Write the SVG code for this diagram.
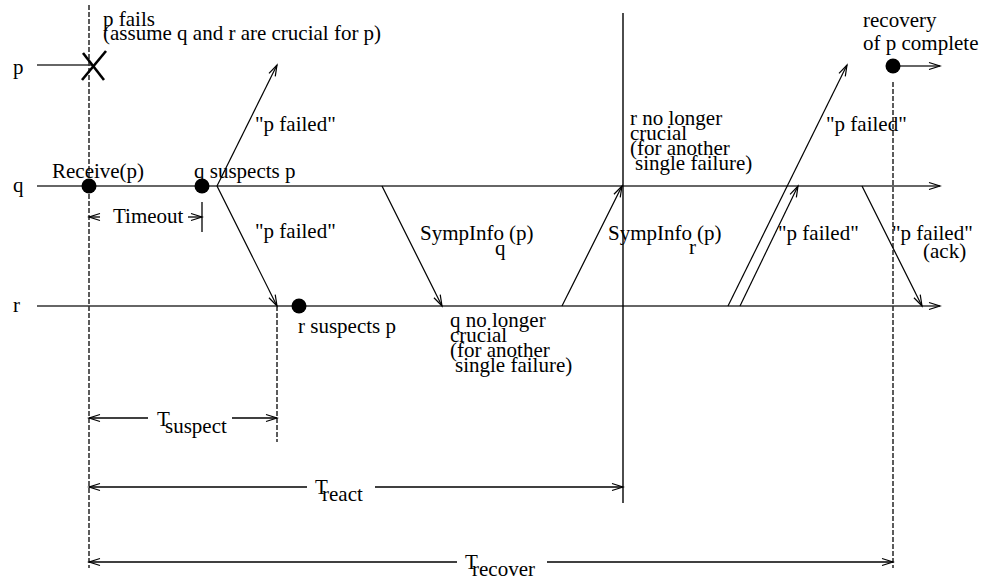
<svg xmlns="http://www.w3.org/2000/svg" width="982" height="582" viewBox="0 0 982 582">
<style>
text{font-family:"Liberation Serif","Times New Roman",serif;font-size:21px;fill:#000}
.tl{stroke:#333;stroke-width:1.3;fill:none}
.msg{stroke:#000;stroke-width:1.2;fill:none}
.dash{stroke:#333;stroke-width:1.6;stroke-dasharray:5,2;fill:none}
.solid{stroke:#000;stroke-width:1.4;fill:none}
.dim{stroke:#000;stroke-width:1.3;fill:none}
.dot{fill:#000}
</style>
<defs>
<marker id="ah" markerUnits="userSpaceOnUse" markerWidth="14" markerHeight="10" refX="11" refY="4" orient="auto-start-reverse" overflow="visible">
<path d="M0,0.5 L11,4 L0,7.5" fill="none" stroke="#000" stroke-width="1.2"/>
</marker>
</defs>
<rect width="982" height="582" fill="#fff"/>

<g id="labels">
<text x="13" y="74">p</text>
<text x="13" y="192">q</text>
<text x="13" y="312">r</text>
</g>

<g id="timelines">
<line class="tl" x1="37" y1="65" x2="92" y2="65"/>
<line class="tl" x1="37" y1="186" x2="940" y2="186" marker-end="url(#ah)"/>
<line class="tl" x1="37" y1="306" x2="940" y2="306" marker-end="url(#ah)"/>
<line class="tl" x1="893" y1="66" x2="940" y2="66" marker-end="url(#ah)"/>
</g>

<g id="verticals">
<line class="dash" x1="89" y1="5" x2="89" y2="568"/>
<line class="dash" x1="277" y1="306" x2="277" y2="442"/>
<line class="dash" x1="893" y1="82" x2="893" y2="568"/>
<line class="solid" x1="623" y1="13" x2="623" y2="503"/>
</g>

<g id="p-fails">
<line x1="83" y1="53" x2="104" y2="80" stroke="#000" stroke-width="2.6"/>
<line x1="106" y1="51" x2="82" y2="80" stroke="#000" stroke-width="2.6"/>
<text x="103" y="26">p fails<tspan x="103" y="40">(assume q and r are crucial for p)</tspan></text>
</g>

<g id="receive">
<circle class="dot" cx="89" cy="186" r="7.5"/>
<text x="52" y="178">Receive(p)</text>
</g>

<g id="q-suspects">
<circle class="dot" cx="202" cy="186" r="7.5"/>
<text x="194" y="178">q suspects p</text>
</g>

<g id="r-suspects">
<circle class="dot" cx="299" cy="306" r="7.5"/>
<text x="298" y="333">r suspects p</text>
</g>

<g id="recovery">
<circle class="dot" cx="893" cy="66" r="7.5"/>
<text x="863" y="27">recovery<tspan x="863" y="50">of p complete</tspan></text>
</g>

<g id="q-no-longer">
<text x="450" y="327">q no longer<tspan x="450" y="342">crucial</tspan><tspan x="450" y="357">(for another</tspan><tspan x="455" y="372">single failure)</tspan></text>
</g>

<g id="r-no-longer">
<text x="630" y="125">r no longer<tspan x="630" y="140">crucial</tspan><tspan x="630" y="155">(for another</tspan><tspan x="635" y="170">single failure)</tspan></text>
</g>

<g id="connectors">
<line class="msg" x1="217" y1="186" x2="277" y2="65" marker-end="url(#ah)"/>
<line class="msg" x1="217" y1="186" x2="277" y2="306" marker-end="url(#ah)"/>
<line class="msg" x1="382" y1="186" x2="442" y2="306" marker-end="url(#ah)"/>
<line class="msg" x1="562" y1="306" x2="622" y2="186" marker-end="url(#ah)"/>
<line class="msg" x1="728" y1="306" x2="847" y2="65" marker-end="url(#ah)"/>
<line class="msg" x1="740" y1="306" x2="798" y2="186" marker-end="url(#ah)"/>
<line class="msg" x1="862" y1="186" x2="922" y2="306" marker-end="url(#ah)"/>
</g>

<g id="message-labels">
<text x="255" y="131">"p failed"</text>
<text x="255" y="238">"p failed"</text>
<text x="420" y="240">SympInfo<tspan x="495" y="255">q</tspan><tspan x="509" y="240">(p)</tspan></text>
<text x="608" y="240">SympInfo<tspan x="689" y="254">r</tspan><tspan x="697" y="240">(p)</tspan></text>
<text x="826" y="131">"p failed"</text>
<text x="778" y="240">"p failed"</text>
<text x="892" y="240">"p failed"<tspan x="923" y="258">(ack)</tspan></text>
</g>

<g id="timeout">
<line class="dim" x1="100" y1="217" x2="89" y2="217" marker-end="url(#ah)"/>
<line class="dim" x1="188" y1="217" x2="202" y2="217" marker-end="url(#ah)"/>
<line class="dim" x1="202" y1="202" x2="202" y2="232"/>
<text x="113" y="223">Timeout</text>
</g>

<g id="t-suspect">
<line class="dim" x1="148" y1="418" x2="89" y2="418" marker-end="url(#ah)"/>
<line class="dim" x1="232" y1="418" x2="277" y2="418" marker-end="url(#ah)"/>
<text x="157" y="426">T<tspan x="165" y="433">suspect</tspan></text>
</g>

<g id="t-react">
<line class="dim" x1="307" y1="487" x2="89" y2="487" marker-end="url(#ah)"/>
<line class="dim" x1="375" y1="487" x2="623" y2="487" marker-end="url(#ah)"/>
<text x="315" y="494">T<tspan x="322" y="501">react</tspan></text>
</g>

<g id="t-recover">
<line class="dim" x1="457" y1="562" x2="89" y2="562" marker-end="url(#ah)"/>
<line class="dim" x1="547" y1="562" x2="893" y2="562" marker-end="url(#ah)"/>
<text x="465" y="569">T<tspan x="472" y="576">recover</tspan></text>
</g>
</svg>
